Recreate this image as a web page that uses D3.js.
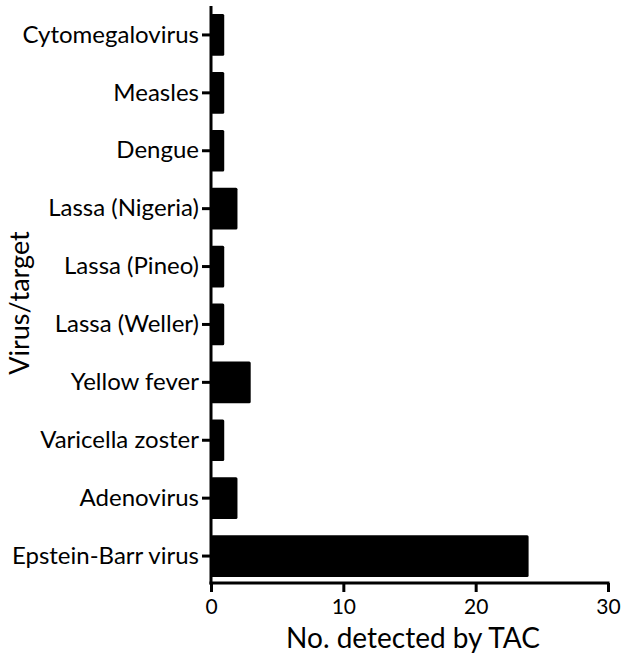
<!DOCTYPE html>
<html><head><meta charset="utf-8">
<script src="https://cdn.jsdelivr.net/npm/d3@7/dist/d3.min.js"></script>
<style>body{margin:0;background:#fff;} svg{display:block;}</style>
</head><body>
<svg id="c" width="621" height="653"></svg>
<script>
const categories = ["Cytomegalovirus","Measles","Dengue","Lassa (Nigeria)","Lassa (Pineo)","Lassa (Weller)","Yellow fever","Varicella zoster","Adenovirus","Epstein-Barr virus"];
const values = [1,1,1,2,1,1,3,1,2,24];
const xTicks = [0,10,20,30];
const xTitle = "No. detected by TAC";
const yTitle = "Virus/target";

const svg = d3.select("#c");
const font = "Lato, 'Open Sans', sans-serif";
const x = d3.scaleLinear().domain([0,30]).range([211,608]);
const y = d3.scaleBand().domain(categories).range([6,585]).paddingInner(0.28).paddingOuter(0.14);

svg.append("g").selectAll("rect").data(categories).join("rect")
  .attr("x", x(0)).attr("y", d=>y(d))
  .attr("width", (d,i)=>x(values[i])-x(0)).attr("height", y.bandwidth())
  .attr("rx",1.5).attr("fill","#000");

const xa = svg.append("g").attr("transform","translate(0,583)")
  .call(d3.axisBottom(x).tickValues(xTicks).tickSize(9).tickPadding(7).tickSizeOuter(0));
const ya = svg.append("g").attr("transform","translate(211,0)")
  .call(d3.axisLeft(y).tickSize(9).tickPadding(3).tickSizeOuter(0));
[xa,ya].forEach(a=>{
  a.select(".domain").attr("stroke","#000").attr("stroke-width",3);
  a.selectAll(".tick line").attr("stroke","#000").attr("stroke-width",3);
  a.selectAll("text").attr("fill","#000").style("font-family",font);
});
xa.selectAll("text").style("font-size","21px");
ya.selectAll("text").style("font-size","24px");
xa.select(".domain").attr("d","M209.5,0H609.5");
ya.select(".domain").attr("d","M0,6V584.5");

svg.append("text").attr("x",413).attr("y",648).attr("text-anchor","middle")
  .style("font-family",font).style("font-size","28px").text(xTitle);
svg.append("text").attr("transform","translate(29,303) rotate(-90)").attr("text-anchor","middle")
  .style("font-family",font).style("font-size","27px").text(yTitle);
</script>
</body></html>
